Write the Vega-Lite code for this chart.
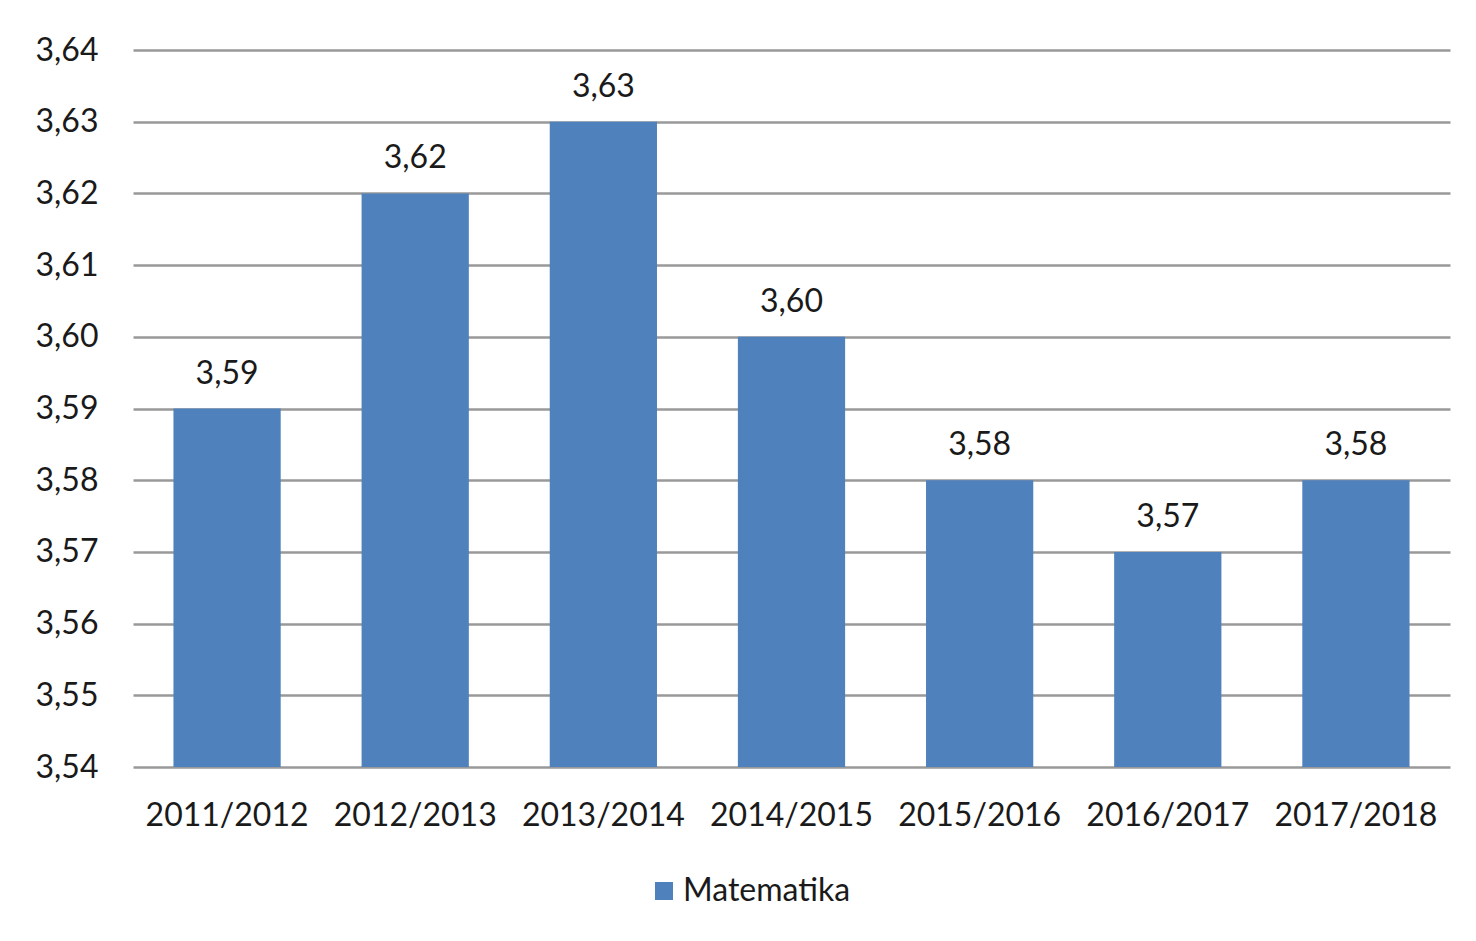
{
  "$schema": "https://vega.github.io/schema/vega-lite/v6.json",
  "autosize": {"type": "none"},
  "width": 1317,
  "height": 717,
  "padding": {"left": 133, "top": 50, "right": 26, "bottom": 174},
  "background": "white",
  "config": {
    "locale": {"number": {"decimal": ",", "thousands": ".", "grouping": [3], "currency": ["", " €"]}},
    "view": {"stroke": null},
    "font": "Lato",
    "text": {"font": "Lato"}
  },
  "data": {
    "values": [
      {"year": "2011/2012", "value": 3.59, "subject": "Matematika"},
      {"year": "2012/2013", "value": 3.62, "subject": "Matematika"},
      {"year": "2013/2014", "value": 3.63, "subject": "Matematika"},
      {"year": "2014/2015", "value": 3.60, "subject": "Matematika"},
      {"year": "2015/2016", "value": 3.58, "subject": "Matematika"},
      {"year": "2016/2017", "value": 3.57, "subject": "Matematika"},
      {"year": "2017/2018", "value": 3.58, "subject": "Matematika"}
    ]
  },
  "encoding": {
    "x": {
      "field": "year", "type": "nominal", "sort": null,
      "scale": {"paddingInner": 0.43, "paddingOuter": 0.215},
      "axis": {
        "title": null, "labelAngle": 0, "ticks": false, "domain": false, "grid": false,
        "labelFont": "Lato", "labelFontSize": 32, "labelColor": "#1a1a1a", "labelPadding": 33
      }
    },
    "y": {
      "field": "value", "type": "quantitative",
      "scale": {"domain": [3.54, 3.64], "zero": false, "nice": false},
      "axis": {
        "title": null, "values": [3.54, 3.55, 3.56, 3.57, 3.58, 3.59, 3.60, 3.61, 3.62, 3.63, 3.64],
        "format": ".2f", "ticks": false, "domain": false,
        "grid": true, "gridColor": "#999999", "gridWidth": 2.5,
        "labelFont": "Lato", "labelFontSize": 32, "labelColor": "#1a1a1a", "labelPadding": 35
      }
    }
  },
  "layer": [
    {
      "mark": {"type": "bar", "color": "#4F81BD"},
      "encoding": {
        "y2": {"datum": 3.54},
        "color": {
          "field": "subject", "type": "nominal",
          "scale": {"range": ["#4F81BD"]},
          "legend": {
            "title": null, "orient": "none", "legendX": 515, "legendY": 825, "padding": 0,
            "symbolType": "square", "symbolSize": 324, "symbolStrokeWidth": 0, "symbolOpacity": 1,
            "labelFont": "Lato", "labelFontSize": 32, "labelColor": "#1a1a1a", "labelOffset": 3, "labelLimit": 0
          }
        }
      }
    },
    {
      "mark": {"type": "text", "baseline": "alphabetic", "dy": -25, "fontSize": 32, "color": "#1a1a1a", "font": "Lato"},
      "encoding": {
        "text": {"field": "value", "type": "quantitative", "format": ".2f"}
      }
    }
  ]
}
